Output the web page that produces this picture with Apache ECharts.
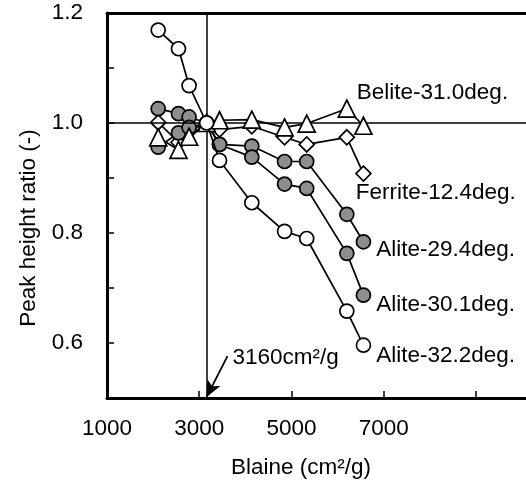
<!DOCTYPE html>
<html>
<head>
<meta charset="utf-8">
<script src="https://cdn.jsdelivr.net/npm/echarts@6/dist/echarts.min.js"></script>
<style>html,body{margin:0;padding:0;background:#fff}#c{width:526px;height:481px}</style>
</head>
<body>
<div id="c"></div>
<script>
const blaine = [2110, 2550, 2780, 3160, 3440, 4140, 4850, 5330, 6200, 6560];
const alite322 = [1.169, 1.135, 1.068, 1.0, 0.932, 0.855, 0.803, 0.790, 0.658, 0.596];
const alite294 = [1.026, 1.017, 1.011, 1.0, 0.961, 0.958, 0.930, 0.930, 0.834, 0.784];
const alite301 = [0.956, 0.982, 0.992, 1.0, 0.961, 0.938, 0.889, 0.881, 0.763, 0.687];
const belite310 = [0.974, 0.951, 0.975, 1.0, 1.005, 1.006, 0.992, 0.999, 1.026, 0.995];
const ferrite124 = [1.001, 0.965, 0.985, 1.0, 0.988, 0.994, 0.974, 0.961, 0.974, 0.908];
const seriesNames = ['Ferrite-12.4deg.', 'Alite-29.4deg.', 'Alite-30.1deg.', 'Belite-31.0deg.', 'Alite-32.2deg.'];
const xTickLabels = ['1000', '3000', '5000', '7000'];
const yTickLabels = ['0.6', '0.8', '1.0', '1.2'];
const refBlaine = 3160;
const refRatio = 1.0;
const annotText = '3160cm\u00B2/g';
const annotAt = [3613, 0.576];

const FONT = 'Liberation Sans, Arial, sans-serif';
const FS = 22.5;

function mkData(vals, name, off) {
  return vals.map((v, i) => {
    const d = { value: [blaine[i], v] };
    if (i === vals.length - 1) {
      d.label = { show: true, formatter: name, position: 'right', distance: 5, offset: off,
        color: '#000', fontSize: FS, fontFamily: FONT };
    }
    return d;
  });
}

function mkSeries(name, vals, symbol, size, fill, off, z) {
  return {
    name: name, type: 'line', data: mkData(vals, name, off),
    symbol: symbol, symbolSize: size, showAllSymbol: true, z: z,
    lineStyle: { color: '#000', width: 1.7 },
    itemStyle: { color: fill, borderColor: '#000', borderWidth: 1.7 },
    emphasis: { disabled: true }, animation: false
  };
}

const sFerrite = mkSeries(seriesNames[0], ferrite124, 'diamond', 15, '#fff', [-21, 19], 2);
const s294 = mkSeries(seriesNames[1], alite294, 'circle', 14, '#8e8e8e', [0, 8], 3);
const s301 = mkSeries(seriesNames[2], alite301, 'circle', 14, '#8e8e8e', [0, 10], 4);
const sBelite = mkSeries(seriesNames[3], belite310, 'triangle', 17, '#fff', [-21, -33], 5);
const s322 = mkSeries(seriesNames[4], alite322, 'circle', 14, '#fff', [0, 11], 6);

sFerrite.markLine = {
  silent: true, symbol: 'none', animation: false,
  lineStyle: { color: '#000', width: 1.5, type: 'solid' },
  label: { show: false },
  data: [{ yAxis: refRatio }, { xAxis: refBlaine }]
};
s294.markLine = {
  silent: true, animation: false, symbol: ['none', 'arrow'], symbolSize: [11, 16],
  lineStyle: { color: '#000', width: 1.8, type: 'solid', curveness: -0.33 },
  label: { show: false },
  data: [[{ coord: annotAt }, { coord: [refBlaine, 0.502] }]]
};
s294.markPoint = {
  silent: true, animation: false, symbol: 'circle', symbolSize: 0,
  data: [{ coord: annotAt,
    label: { show: true, formatter: annotText, position: 'right', distance: 5, offset: [0, 2],
      color: '#000', fontSize: FS, fontFamily: FONT } }]
};

const option = {
  animation: false,
  backgroundColor: '#fff',
  grid: { left: 107, top: 13, right: 0, bottom: 83, show: false },
  xAxis: [{
    type: 'value', min: 1000, max: 10085, interval: 2000,
    axisLine: { show: true, onZero: false, lineStyle: { color: '#000', width: 3 } },
    axisTick: { show: true, inside: true, length: 7, lineStyle: { color: '#000', width: 1.5 } },
    axisLabel: { color: '#000', fontSize: FS, fontFamily: FONT, margin: 19, showMaxLabel: false,
      formatter: v => xTickLabels.indexOf(String(v)) >= 0 ? String(v) : '' },
    splitLine: { show: false }
  }, {
    type: 'value', position: 'top', min: 1000, max: 10085,
    axisLine: { show: true, onZero: false, lineStyle: { color: '#000', width: 3 } },
    axisTick: { show: false }, axisLabel: { show: false }, splitLine: { show: false }
  }],
  yAxis: {
    type: 'value', min: 0.5, max: 1.2, interval: 0.1,
    axisLine: { show: true, onZero: false, lineStyle: { color: '#000', width: 3 } },
    axisTick: { show: true, inside: true, length: 7, lineStyle: { color: '#000', width: 1.5 } },
    axisLabel: { color: '#000', fontSize: FS, fontFamily: FONT, margin: 24,
      formatter: v => { const s = v.toFixed(1); return yTickLabels.indexOf(s) >= 0 ? s : ''; } },
    splitLine: { show: false }
  },
  graphic: [
    { type: 'text', x: 301, y: 468, silent: true,
      style: { text: 'Blaine (cm\u00B2/g)', fill: '#000', font: FS + 'px ' + FONT, align: 'center', verticalAlign: 'middle' } },
    { type: 'text', x: 29, y: 228, rotation: Math.PI / 2, silent: true,
      style: { text: 'Peak height ratio (-)', fill: '#000', font: FS + 'px ' + FONT, align: 'center', verticalAlign: 'middle' } }
  ],
  series: [sFerrite, s294, s301, sBelite, s322]
};

const chart = echarts.init(document.getElementById('c'), null, { renderer: 'canvas' });
chart.setOption(option);
</script>
</body>
</html>
